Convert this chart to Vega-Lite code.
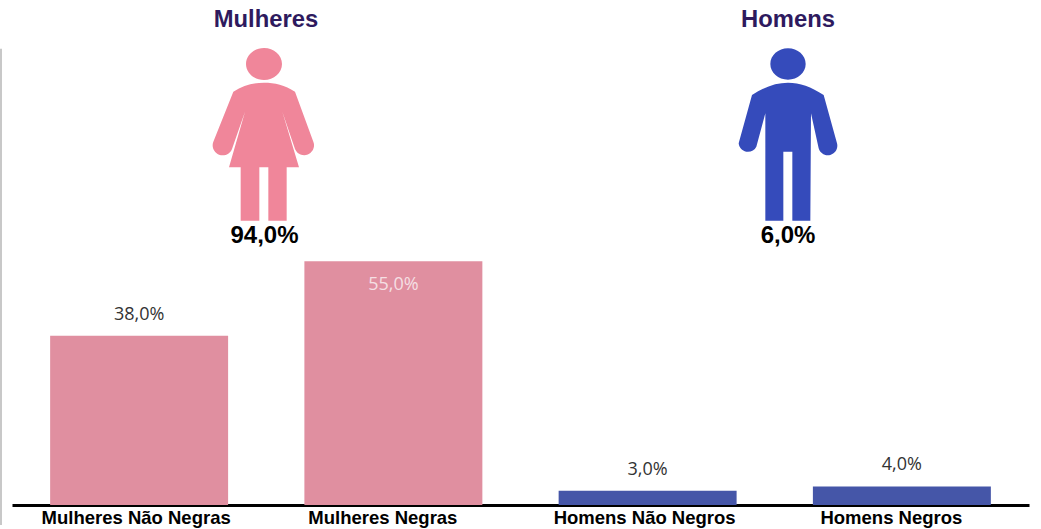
{
  "$schema": "https://vega.github.io/schema/vega-lite/v6.json",
  "width": 1017,
  "height": 505,
  "autosize": "none",
  "padding": {"left": 12, "right": 12, "top": 0, "bottom": 24},
  "background": "white",
  "config": {"view": {"stroke": null}},
  "datasets": {
    "barras": [
      {"categoria": "Mulheres Não Negras", "grupo": "Mulheres", "valor": 38.2, "rotulo": "38,0%"},
      {"categoria": "Mulheres Negras", "grupo": "Mulheres", "valor": 55, "rotulo": "55,0%"},
      {"categoria": "Homens Não Negros", "grupo": "Homens", "valor": 3.2, "rotulo": "3,0%"},
      {"categoria": "Homens Negros", "grupo": "Homens", "valor": 4.2, "rotulo": "4,0%"}
    ],
    "pessoas": [
      {"grupo": "Mulheres", "valor": 94, "rotulo": "94,0%"},
      {"grupo": "Homens", "valor": 6, "rotulo": "6,0%"}
    ]
  },
  "resolve": {"scale": {"x": "independent", "y": "independent", "color": "independent", "shape": "independent"}},
  "layer": [
    {
      "data": {"name": "barras"},
      "mark": {"type": "bar"},
      "encoding": {
        "x": {
          "field": "categoria", "type": "nominal",
          "scale": {"domain": ["Mulheres Não Negras", "Mulheres Negras", "Homens Não Negros", "Homens Negros"], "paddingInner": 0.3, "paddingOuter": 0.15},
          "axis": {"title": null, "labels": false, "ticks": false, "domainColor": "#000000", "domainWidth": 3, "grid": false}
        },
        "y": {"field": "valor", "type": "quantitative", "scale": {"domain": [0, 114], "nice": false}, "axis": null},
        "color": {"field": "grupo", "type": "nominal", "scale": {"domain": ["Mulheres", "Homens"], "range": ["#E08FA0", "#4556A8"]}, "legend": null}
      }
    },
    {
      "data": {"name": "barras"},
      "transform": [{"filter": "indexof(datum.categoria, 'Não') >= 0"}],
      "mark": {"type": "text", "font": "Liberation Sans", "fontWeight": "bold", "fontSize": 18.5, "color": "#000000", "dy": 12.5, "dx": -3, "baseline": "middle"},
      "encoding": {
        "x": {"field": "categoria", "type": "nominal", "scale": {"domain": ["Mulheres Não Negras", "Mulheres Negras", "Homens Não Negros", "Homens Negros"], "paddingInner": 0.3, "paddingOuter": 0.15}, "axis": null},
        "y": {"datum": 0, "type": "quantitative", "scale": {"domain": [0, 114], "nice": false}, "axis": null},
        "text": {"field": "categoria"}
      }
    },
    {
      "data": {"name": "barras"},
      "transform": [{"filter": "indexof(datum.categoria, 'Não') < 0"}],
      "mark": {"type": "text", "font": "Liberation Sans", "fontWeight": "bold", "fontSize": 18.5, "color": "#000000", "dy": 12.5, "dx": -10.5, "baseline": "middle"},
      "encoding": {
        "x": {"field": "categoria", "type": "nominal", "scale": {"domain": ["Mulheres Não Negras", "Mulheres Negras", "Homens Não Negros", "Homens Negros"], "paddingInner": 0.3, "paddingOuter": 0.15}, "axis": null},
        "y": {"datum": 0, "type": "quantitative", "scale": {"domain": [0, 114], "nice": false}, "axis": null},
        "text": {"field": "categoria"}
      }
    },
    {
      "data": {"name": "barras"},
      "transform": [{"filter": "datum.valor < 50"}],
      "mark": {"type": "text", "font": "Open Sans", "fontSize": 18, "color": "#333333", "dy": -21, "baseline": "middle"},
      "encoding": {
        "x": {"field": "categoria", "type": "nominal", "scale": {"domain": ["Mulheres Não Negras", "Mulheres Negras", "Homens Não Negros", "Homens Negros"], "paddingInner": 0.3, "paddingOuter": 0.15}, "axis": null},
        "y": {"field": "valor", "type": "quantitative", "scale": {"domain": [0, 114], "nice": false}, "axis": null},
        "text": {"field": "rotulo"}
      }
    },
    {
      "data": {"name": "barras"},
      "transform": [{"filter": "datum.valor >= 50"}],
      "mark": {"type": "text", "font": "Open Sans", "fontSize": 18, "color": "#F5DFE3", "dy": 24, "baseline": "middle"},
      "encoding": {
        "x": {"field": "categoria", "type": "nominal", "scale": {"domain": ["Mulheres Não Negras", "Mulheres Negras", "Homens Não Negros", "Homens Negros"], "paddingInner": 0.3, "paddingOuter": 0.15}, "axis": null},
        "y": {"field": "valor", "type": "quantitative", "scale": {"domain": [0, 114], "nice": false}, "axis": null},
        "text": {"field": "rotulo"}
      }
    },
    {
      "data": {"name": "pessoas"},
      "mark": {"type": "point", "filled": true, "opacity": 1, "size": 0.4444, "strokeWidth": 0},
      "encoding": {
        "x": {"field": "grupo", "type": "nominal", "scale": {"domain": ["Mulheres", "Homens"], "range": [-7, 1037], "paddingInner": 0, "paddingOuter": 0}, "axis": null},
        "y": {"datum": "Ícone", "type": "ordinal", "scale": {"type": "point", "domain": ["Título", "Ícone", "Percentual"], "range": [19, 235], "padding": 0}, "axis": null},
        "color": {"field": "grupo", "type": "nominal", "scale": {"domain": ["Mulheres", "Homens"], "range": ["#F0869A", "#354BBB"]}, "legend": null},
        "shape": {
          "field": "grupo", "type": "nominal", "legend": null,
          "scale": {
            "domain": ["Mulheres", "Homens"],
            "range": [
              "M -60 -189 A 54 48 0 1 1 48 -189 A 54 48 0 1 1 -60 -189 Z M -98 -106 C -68 -126 -38 -133 -6 -133 C 26 -133 57 -126 87 -106 L 142 44 A 28 28 0 0 1 87 66 L 49 -46 L 99 121 L 62 121 L 62 281 L 7 281 L 7 121 L -20 121 L -20 281 L -76 281 L -76 121 L -111 121 L -63 -46 L -102 66 A 28 28 0 0 1 -158 44 Z",
              "M -53 -189 A 53 47 0 1 1 53 -189 A 53 47 0 1 1 -53 -189 Z M -108 -96 C -70 -121 -35 -133 0 -133 C 35 -133 70 -121 107 -96 L 147 49 A 28 28 0 0 1 92 64 L 69 -41 L 67 281 L 13 281 L 13 74 L -14 74 L -14 281 L -68 281 L -68 -41 L -95 59 A 28 28 0 0 1 -148 49 Z"
            ]
          }
        }
      }
    },
    {
      "data": {"name": "pessoas"},
      "mark": {"type": "text", "font": "Liberation Sans", "fontWeight": "bold", "fontSize": 23.8, "color": "#2E1A5E", "baseline": "middle", "dy": 1},
      "encoding": {
        "x": {"field": "grupo", "type": "nominal", "scale": {"domain": ["Mulheres", "Homens"], "range": [-7, 1037], "paddingInner": 0, "paddingOuter": 0}, "axis": null},
        "y": {"datum": "Título", "type": "ordinal", "scale": {"type": "point", "domain": ["Título", "Ícone", "Percentual"], "range": [19, 235], "padding": 0}, "axis": null},
        "text": {"field": "grupo"}
      }
    },
    {
      "data": {"name": "pessoas"},
      "transform": [{"filter": "datum.grupo === 'Mulheres'"}],
      "mark": {"type": "text", "font": "Liberation Sans", "fontWeight": "bold", "fontSize": 24, "color": "#000000", "baseline": "middle", "dy": 1, "dx": -1.5},
      "encoding": {
        "x": {"field": "grupo", "type": "nominal", "scale": {"domain": ["Mulheres", "Homens"], "range": [-7, 1037], "paddingInner": 0, "paddingOuter": 0}, "axis": null},
        "y": {"datum": "Percentual", "type": "ordinal", "scale": {"type": "point", "domain": ["Título", "Ícone", "Percentual"], "range": [19, 235], "padding": 0}, "axis": null},
        "text": {"field": "rotulo"}
      }
    },
    {
      "data": {"name": "pessoas"},
      "transform": [{"filter": "datum.grupo === 'Homens'"}],
      "mark": {"type": "text", "font": "Liberation Sans", "fontWeight": "bold", "fontSize": 24, "color": "#000000", "baseline": "middle", "dy": 1},
      "encoding": {
        "x": {"field": "grupo", "type": "nominal", "scale": {"domain": ["Mulheres", "Homens"], "range": [-7, 1037], "paddingInner": 0, "paddingOuter": 0}, "axis": null},
        "y": {"datum": "Percentual", "type": "ordinal", "scale": {"type": "point", "domain": ["Título", "Ícone", "Percentual"], "range": [19, 235], "padding": 0}, "axis": null},
        "text": {"field": "rotulo"}
      }
    },
    {
      "data": {"values": [{"marca": "margem"}]},
      "mark": {"type": "rule", "color": "#C8C8C8", "strokeWidth": 2},
      "encoding": {
        "x": {"datum": 0, "type": "quantitative", "scale": {"domain": [0, 1], "range": [-11, 1000], "nice": false, "zero": false}, "axis": null},
        "y": {"datum": 103, "type": "quantitative", "scale": {"domain": [0, 114], "nice": false}, "axis": null},
        "y2": {"datum": -4.5}
      }
    }
  ]
}
